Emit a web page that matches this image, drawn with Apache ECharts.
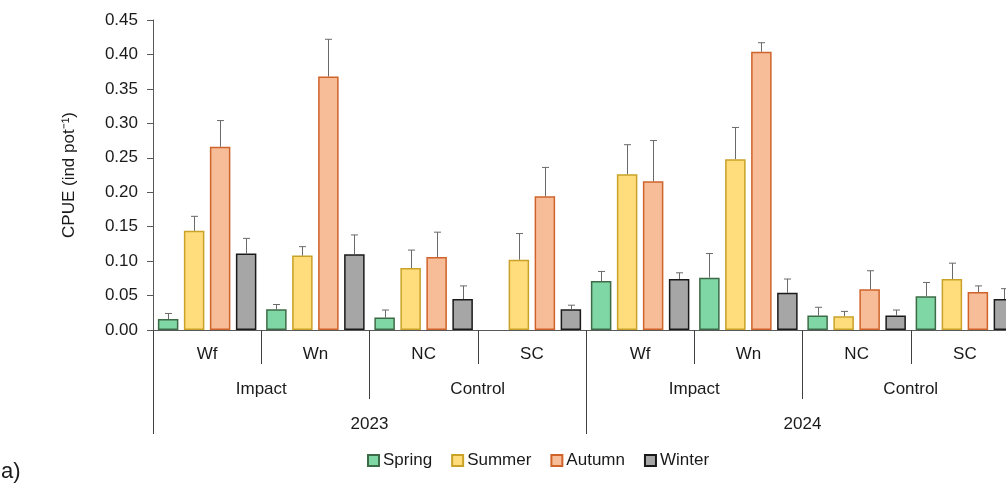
<!DOCTYPE html>
<html>
<head>
<meta charset="utf-8">
<script src="https://cdn.jsdelivr.net/npm/echarts@6/dist/echarts.min.js"></script>
<style>html,body{margin:0;padding:0;background:#fff}#chart{width:1006px;height:485px}</style>
</head>
<body>
<div id="chart"></div>
<script>
// labels of the three x levels
var sites = ['Wf', 'Wn', 'NC', 'SC', 'Wf', 'Wn', 'NC', 'SC'];
var zones = ['Impact', 'Control', 'Impact', 'Control'];
var years = ['2023', '2024'];
var seasons = ['Spring', 'Summer', 'Autumn', 'Winter'];

// mean CPUE per site, one array per season
var spring = [0.016, 0.030, 0.018, null, 0.071, 0.076, 0.021, 0.049];
var summer = [0.144, 0.108, 0.090, 0.102, 0.226, 0.248, 0.020, 0.074];
var autumn = [0.266, 0.368, 0.106, 0.194, 0.216, 0.404, 0.059, 0.055];
var winter = [0.111, 0.110, 0.045, 0.030, 0.074, 0.054, 0.021, 0.045];

// standard errors (upper whisker)
var springErr = [0.008, 0.007, 0.011, null, 0.014, 0.035, 0.012, 0.020];
var summerErr = [0.021, 0.013, 0.026, 0.038, 0.043, 0.046, 0.007, 0.023];
var autumnErr = [0.038, 0.054, 0.036, 0.042, 0.059, 0.013, 0.027, 0.009];
var winterErr = [0.022, 0.028, 0.019, 0.006, 0.009, 0.020, 0.008, 0.015];

var means = [spring, summer, autumn, winter];
var errs = [springErr, summerErr, autumnErr, winterErr];
var fills = ['#80D7A6', '#FFDD7D', '#F6BD98', '#A6A6A6'];
var borders = ['#3E6B47', '#C9A227', '#D0632A', '#1A1A1A'];

var BAR_W = 20.5, BAR_GAP = 5.5;
var font = 'Liberation Sans, Arial, sans-serif';

var chart = echarts.init(document.getElementById('chart'));

var series = [];
seasons.forEach(function (name, k) {
  series.push({
    name: name,
    type: 'bar',
    xAxisIndex: 0,
    barWidth: BAR_W,
    barGap: (BAR_GAP / BAR_W * 100) + '%',
    data: means[k],
    itemStyle: { color: fills[k], borderColor: borders[k], borderWidth: 1.5 },
    z: 2
  });
});
seasons.forEach(function (name, k) {
  var offset = (k - 1.5) * (BAR_W + BAR_GAP);
  series.push({
    type: 'custom',
    xAxisIndex: 0,
    z: 3,
    silent: true,
    data: means[k].map(function (m, i) {
      return m == null ? [i, NaN, NaN] : [i, m, errs[k][i]];
    }),
    encode: { x: 0, y: 1 },
    renderItem: function (params, api) {
      var m = api.value(1), s = api.value(2);
      if (isNaN(m)) return;
      var base = api.coord([api.value(0), m]);
      var top = api.coord([api.value(0), m + s]);
      var x = Math.round(base[0] + offset) + 0.5;
      var st = { stroke: '#6A6A6A', lineWidth: 1 };
      return {
        type: 'group',
        children: [
          { type: 'line', shape: { x1: x, y1: base[1], x2: x, y2: top[1] }, style: st },
          { type: 'line', shape: { x1: x - 3.5, y1: top[1], x2: x + 3.5, y2: top[1] }, style: st }
        ]
      };
    }
  });
});

var catAxis = function (data, tickLen, margin, showLine) {
  return {
    type: 'category',
    data: data,
    gridIndex: 0,
    position: 'bottom',
    axisLine: { show: showLine, lineStyle: { color: '#595959', width: 1 } },
    axisTick: { show: true, interval: 0, length: tickLen, lineStyle: { color: '#404040', width: 1 } },
    axisLabel: { interval: 0, margin: margin, color: '#1A1A1A', fontSize: 17, fontFamily: font },
    splitLine: { show: false }
  };
};

chart.setOption({
  animation: false,
  textStyle: { fontFamily: font },
  // the plot runs past the right edge of the picture
  grid: { left: 153, width: 866, top: 20, bottom: 155, containLabel: false, outerBoundsMode: 'none' },
  legend: {
    data: seasons,
    icon: 'rect',
    top: 447,
    left: 362,
    itemWidth: 11,
    itemHeight: 11,
    itemGap: 19,
    textStyle: { fontSize: 17, color: '#1A1A1A', padding: [0, 0, 0, -1] }
  },
  xAxis: [
    catAxis(sites, 34, 16, true),
    catAxis(zones, 69, 51, false),
    catAxis(years, 104, 86, false)
  ],
  yAxis: {
    type: 'value',
    min: 0,
    max: 0.45,
    interval: 0.05,
    name: 'CPUE (ind pot\u207B\u00B9)',
    nameLocation: 'middle',
    nameGap: 75,
    nameTextStyle: { fontSize: 17, color: '#1A1A1A' },
    axisLine: { show: true, lineStyle: { color: '#595959' } },
    axisTick: { show: true, length: 6, lineStyle: { color: '#595959' } },
    axisLabel: {
      fontSize: 17, color: '#1A1A1A', margin: 15,
      formatter: function (v) { return v.toFixed(2); }
    },
    splitLine: { show: false }
  },
  graphic: [{
    type: 'text', left: 1, top: 461,
    style: { text: 'a)', fontSize: 22, fill: '#1A1A1A', fontFamily: font }
  }],
  series: series
});
</script>
</body>
</html>
